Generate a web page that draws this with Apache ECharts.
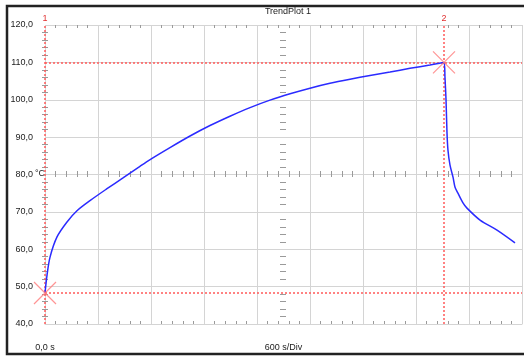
<!DOCTYPE html>
<html>
<head>
<meta charset="utf-8">
<script src="https://cdn.jsdelivr.net/npm/echarts@6/dist/echarts.min.js"></script>
<style>
  html, body { margin: 0; padding: 0; background: #fff; }
  #chart { width: 524px; height: 358px; }
</style>
</head>
<body>
<div id="chart"></div>
<script>
// time in seconds, temperature in °C
const times = [0, 23, 57, 136, 249, 362, 509, 702, 883, 1075, 1190, 1415, 1642, 1868, 2094,
  2321, 2547, 2774, 3000, 3226, 3453, 3679, 3906, 4132, 4358, 4517,
  4528, 4540, 4551, 4562, 4585, 4619, 4642, 4675, 4732, 4777, 4925, 5117, 5321];
const temps = [48.3, 53.1, 57.9, 63.3, 67.3, 70.3, 73.0, 76.2, 79.1, 82.2, 84.0, 87.2, 90.3, 93.1, 95.6,
  97.9, 99.9, 101.6, 103.1, 104.4, 105.5, 106.5, 107.4, 108.4, 109.3, 110.0,
  106.0, 99.9, 91.1, 86.5, 82.5, 79.3, 76.6, 75.0, 72.4, 71.0, 67.8, 65.1, 61.7];

const cursorTimes = [0, 4517];
const cursorTemps = [48.3, 110.0];
const cursorNames = ["1", "2"];

const xMin = 0, xMax = 5400, xStep = 600;
const yMin = 40, yMax = 120, yStep = 10;

const dom = document.getElementById("chart");
const myChart = echarts.init(dom);

const font = "Liberation Sans";
const tickColor = "#9a9a9a";
const gridColor = "#d4d4d4";

function extraX(position, offset, inside) {
  return {
    type: "value", min: xMin, max: xMax, interval: xStep, position: position, offset: offset,
    axisLine: { show: false }, axisLabel: { show: false },
    splitLine: { show: false },
    minorTick: { show: true, splitNumber: 5, length: 3, lineStyle: { color: tickColor } },
    axisTick: { show: false, inside: inside },
  };
}

function extraY(position, offset, inside) {
  return {
    type: "value", min: yMin, max: yMax, interval: yStep, position: position, offset: offset,
    axisLine: { show: false }, axisLabel: { show: false },
    splitLine: { show: false },
    minorTick: { show: true, splitNumber: 5, length: 3, lineStyle: { color: tickColor } },
    axisTick: { show: false, inside: inside },
  };
}

const option = {
  animation: false,
  backgroundColor: "#fff",
  title: {
    text: "TrendPlot 1",
    left: 283,
    textAlign: "center",
    top: 2,
    textStyle: { fontFamily: font, fontSize: 9, fontWeight: "normal", color: "#222" },
  },
  graphic: [
    {
      type: "rect",
      shape: { x: 7, y: 6, width: 520, height: 348 },
      style: { fill: "none", stroke: "#222", lineWidth: 2.5 },
      z: 100,
    },
    {
      // unit after the 80,0 label
      type: "text",
      x: 35, y: 174,
      style: { text: "°C", fontFamily: font, fontSize: 9, fill: "#222", verticalAlign: "middle" },
    },
  ],
  grid: { left: 45, top: 25, width: 477, height: 299, outerBoundsMode: "none", containLabel: false },
  xAxis: [
    {
      type: "value", min: xMin, max: xMax, interval: xStep,
      axisLine: { show: true, lineStyle: { color: gridColor } },
      axisTick: { show: false, inside: true },
      minorTick: { show: true, splitNumber: 5, length: 3, lineStyle: { color: tickColor } },
      splitLine: { show: true, lineStyle: { color: gridColor, width: 1 } },
      axisLabel: {
        customValues: [0, 2700],
        margin: 19,
        fontFamily: font, fontSize: 9, color: "#222",
        formatter: (v) => (v === 0 ? "0,0 s" : "600 s/Div"),
      },
    },
    extraX("top", 0, true),
    extraX("bottom", -150, true),
    extraX("bottom", -150, false),
  ],
  yAxis: [
    {
      type: "value", min: yMin, max: yMax, interval: yStep,
      axisLine: { show: false },
      axisTick: { show: false, inside: true },
      minorTick: { show: true, splitNumber: 5, length: 3, lineStyle: { color: tickColor } },
      splitLine: { show: true, lineStyle: { color: gridColor, width: 1 } },
      axisLabel: {
        margin: 12,
        fontFamily: font, fontSize: 9, color: "#222",
        formatter: (v) => v.toFixed(1).replace(".", ","),
      },
    },
    extraY("right", 0, true),
    extraY("left", -238, true),
    extraY("left", -238, false),
  ],
  series: [
    {
      name: "Trend",
      type: "line",
      data: times.map((t, i) => [t, temps[i]]),
      showSymbol: false,
      smooth: 0.3,
      lineStyle: { color: "#2b2bff", width: 1.5 },
      z: 5,
      markLine: {
        silent: true,
        symbol: "none",
        lineStyle: { color: "#ff5a5a", type: [2, 2], width: 1.5 },
        label: { show: false },
        data: [
          ...cursorTimes.map((t, i) => ({
            xAxis: t,
            label: {
              show: true, position: "end", formatter: cursorNames[i], distance: 2,
              color: "#e03030", fontFamily: font, fontSize: 9,
            },
          })),
          ...cursorTemps.map((v) => ({ yAxis: v })),
        ],
      },
    },
    {
      name: "Cursors",
      type: "scatter",
      data: cursorTimes.map((t, i) => [t, cursorTemps[i]]),
      symbol: "path://M0,0L10,10M10,0L0,10",
      symbolSize: 22,
      itemStyle: { color: "rgba(0,0,0,0)", borderColor: "#ff7a7a", borderWidth: 1.2 },
      z: 6,
    },
  ],
};

option && myChart.setOption(option);
</script>
</body>
</html>
